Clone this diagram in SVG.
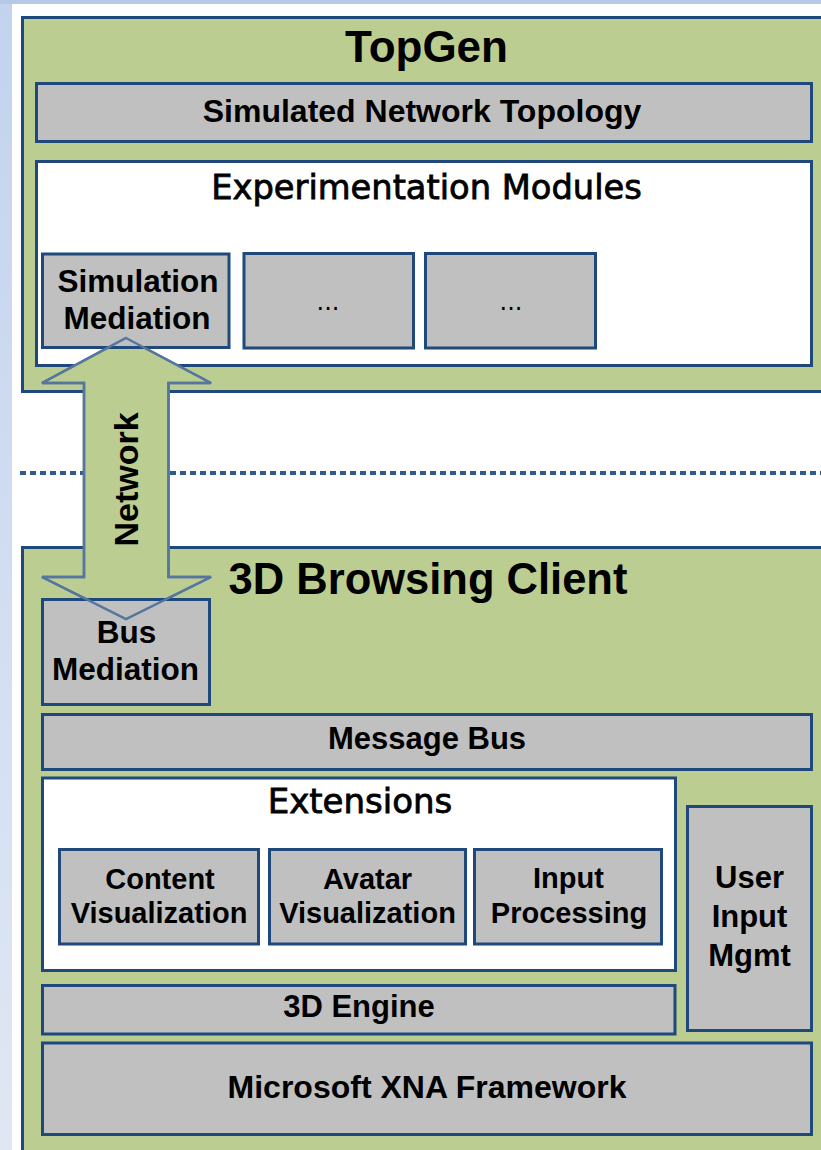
<svg xmlns="http://www.w3.org/2000/svg" xmlns:xlink="http://www.w3.org/1999/xlink" width="821" height="1150" viewBox="0 0 821 1150">
<defs>
<linearGradient id="strip" x1="0" y1="0" x2="0" y2="1">
<stop offset="0" stop-color="#c3d3ee"/>
<stop offset="1" stop-color="#e0e7f3"/>
</linearGradient>
<polygon id="arrowShape" points="126,338 211,383 168.5,383 168.5,577 211,577 126,619 42,577 84,577 84,383 42,383"/>
</defs>
<style>
.c{fill:#bccd91;stroke:#1f497d;stroke-width:3}
.g{fill:#c0c0c0;stroke:#1f497d;stroke-width:3}
.w{fill:#ffffff;stroke:#1f497d;stroke-width:3}
.tb{font-family:"Liberation Sans",Arial,sans-serif;font-weight:bold;fill:#000;text-anchor:middle}
.tr{font-family:"DejaVu Sans",Verdana,sans-serif;fill:#000;stroke:#000;stroke-width:0.8;text-anchor:middle}
.dots{font-family:"DejaVu Sans",Verdana,sans-serif;fill:#000;text-anchor:middle}
.arr{fill:#bccd91;stroke:#56769e;stroke-width:2.5;stroke-linejoin:miter}
.arrLine{fill:none;stroke:#56769e;stroke-width:2.5}
</style>
<rect x="0" y="0" width="821" height="1150" fill="#ffffff"/>
<rect x="0" y="0" width="12" height="1150" fill="url(#strip)"/>
<rect x="0" y="0" width="821" height="4" fill="#b5c8e7"/>

<g id="topgen">
<rect class="c" x="22.5" y="17.5" width="820" height="374"/>
<text class="tb" x="426.5" y="62" font-size="44">TopGen</text>
</g>
<g id="simulated-network-topology">
<rect class="g" x="36.5" y="83.5" width="775" height="58"/>
<text class="tb" x="422" y="122" font-size="32">Simulated Network Topology</text>
</g>
<g id="experimentation-modules">
<rect class="w" x="36.5" y="161.5" width="775" height="204"/>
<text class="tr" x="426.5" y="199" font-size="33.7">Experimentation Modules</text>
</g>
<g id="module-2">
<rect class="g" x="244" y="253.5" width="169.5" height="94.5"/>
<text class="dots" x="328" y="310" font-size="24">...</text>
</g>
<g id="module-3">
<rect class="g" x="425.5" y="253.5" width="170" height="94.5"/>
<text class="dots" x="511" y="310" font-size="24">...</text>
</g>

<g id="browsing-client">
<rect class="c" x="22.5" y="547.5" width="820" height="620"/>
<text class="tb" x="428" y="594" font-size="43.5">3D Browsing Client</text>
</g>
<g id="message-bus">
<rect class="g" x="42.5" y="714.5" width="769" height="55"/>
<text class="tb" x="427" y="749" font-size="31">Message Bus</text>
</g>
<g id="extensions">
<rect class="w" x="42.5" y="778" width="633" height="192.5"/>
<text class="tr" x="360" y="813" font-size="34">Extensions</text>
</g>
<g id="content-visualization">
<rect class="g" x="59.5" y="849.5" width="199" height="94.5"/>
<text class="tb" x="160" y="889" font-size="29">Content</text>
<text class="tb" x="159" y="923" font-size="29">Visualization</text>
</g>
<g id="avatar-visualization">
<rect class="g" x="269.5" y="849.5" width="196" height="94.5"/>
<text class="tb" x="367.5" y="889" font-size="29">Avatar</text>
<text class="tb" x="367.5" y="923" font-size="29">Visualization</text>
</g>
<g id="input-processing">
<rect class="g" x="474.5" y="849.5" width="187" height="94.5"/>
<text class="tb" x="568.5" y="888" font-size="29">Input</text>
<text class="tb" x="569" y="923" font-size="29">Processing</text>
</g>
<g id="user-input-mgmt">
<rect class="g" x="687.5" y="806.5" width="124" height="224"/>
<text class="tb" x="749.5" y="888" font-size="31">User</text>
<text class="tb" x="749.5" y="927" font-size="31">Input</text>
<text class="tb" x="749.5" y="966" font-size="31">Mgmt</text>
</g>
<g id="3d-engine">
<rect class="g" x="42.5" y="985.5" width="632.5" height="48.5"/>
<text class="tb" x="359" y="1017" font-size="31">3D Engine</text>
</g>
<g id="xna-framework">
<rect class="g" x="42.5" y="1043" width="769" height="91.5"/>
<text class="tb" x="427" y="1098" font-size="32">Microsoft XNA Framework</text>
</g>

<g id="separator">
<line x1="20" y1="473" x2="821" y2="473" stroke="#2f5a8e" stroke-width="4" stroke-dasharray="6 4"/>
</g>

<g id="connectors">
<use xlink:href="#arrowShape" class="arr"/>
</g>

<g id="simulation-mediation">
<rect class="g" x="42.5" y="254" width="186.5" height="93.5"/>
<text class="tb" x="138" y="291.5" font-size="31.5">Simulation</text>
<text class="tb" x="137" y="329" font-size="31.5">Mediation</text>
</g>
<g id="bus-mediation">
<rect class="g" x="42.5" y="599.5" width="167" height="105"/>
<text class="tb" x="126.5" y="643" font-size="31.5">Bus</text>
<text class="tb" x="125.5" y="680" font-size="31.5">Mediation</text>
</g>

<g id="connector-label">
<use xlink:href="#arrowShape" class="arrLine"/>
<text class="tb" x="138" y="479.5" font-size="34" transform="rotate(-90 138 479.5)">Network</text>
</g>
</svg>
